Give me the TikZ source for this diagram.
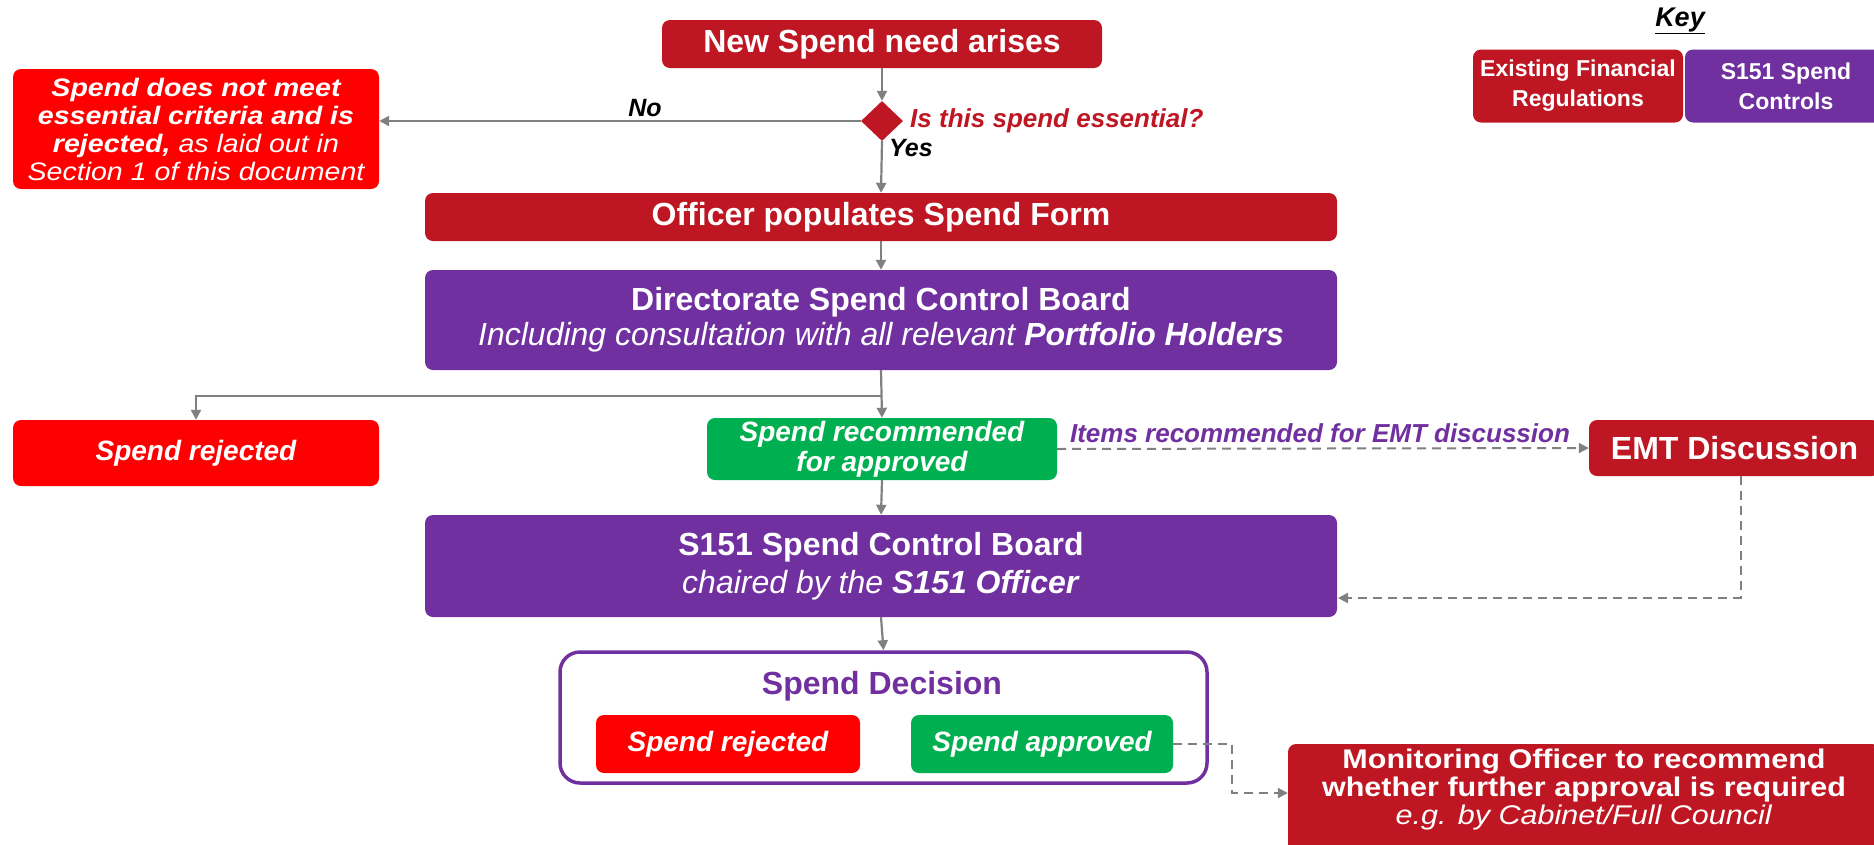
\documentclass[tikz,border=0pt]{standalone}
\usepackage{fontspec}
\setmainfont{Liberation Sans}
\newfontfamily\widesans[FakeStretch=1.13]{Liberation Sans}
\usetikzlibrary{shapes.geometric,arrows.meta}
\definecolor{regred}{RGB}{190,22,34}
\definecolor{ctrlpurple}{RGB}{112,48,160}
\definecolor{brightred}{RGB}{255,0,0}
\definecolor{okgreen}{RGB}{0,176,80}
\definecolor{linegray}{RGB}{128,128,128}
\newcommand\fsz[2]{\fontsize{#1}{#2}\selectfont}
\begin{document}
\begin{tikzpicture}[x=1pt,y=-1pt,
  box/.style={rectangle,rounded corners=8pt,inner sep=0pt,text=white,align=center,anchor=center},
  regbox/.style={box,fill=regred},
  ctrlbox/.style={box,fill=ctrlpurple},
  rejbox/.style={box,fill=brightred},
  okbox/.style={box,fill=okgreen},
  flow/.style={draw=linegray,line width=2.2pt,-{Triangle[length=10pt,width=10pt]}},
  dflow/.style={flow,line width=2pt,dash pattern=on 9pt off 6pt},
  lbl/.style={inner sep=0pt}
]
\fill[white] (0,0) rectangle (1874,844);
\clip (0,0) rectangle (1874,844);

% key
\node[lbl,font=\fsz{27}{30}\bfseries\itshape] (keytitle) at (1680,21) {\underline{Key}};
\node[regbox,minimum width=210pt,minimum height=73pt,font=\fsz{23}{30}\bfseries] (keyreg) at (1578,86) {Existing Financial\\Regulations};
\node[ctrlbox,minimum width=202pt,minimum height=73pt,font=\fsz{23}{30}\bfseries] (keyctrl) at (1786,86) {S151 Spend\\Controls};

% top
\node[regbox,minimum width=440pt,minimum height=48pt,font=\fsz{32}{38}\bfseries] (newspend) at (882,44) {New Spend need arises};
\node[diamond,fill=regred,minimum width=42pt,minimum height=40pt,inner sep=0pt] (dia) at (882,121) {};
\node[lbl,anchor=west,text=regred,font=\fsz{26}{30}\bfseries\itshape] (question) at (910,121) {Is this spend essential?};
\node[rejbox,minimum width=366pt,minimum height=120pt,font=\widesans\fsz{25.3}{28}\itshape] (reject1) at (196,129)
  {\textbf{Spend does not meet}\\\textbf{essential criteria and is}\\\textbf{rejected,} as laid out in\\Section 1 of this document};
\node[lbl,anchor=base,font=\fsz{25}{28}\bfseries\itshape] (nolbl) at (645,116) {No};
\node[lbl,anchor=base west,font=\fsz{25}{28}\bfseries\itshape] (yeslbl) at (889,156) {Yes};

\node[regbox,minimum width=912pt,minimum height=48pt,font=\fsz{32}{38}\bfseries] (officer) at (881,217) {Officer populates Spend Form};
\node[ctrlbox,minimum width=912pt,minimum height=100pt,font=\fsz{32}{35}] (director) at (881,320)
  {\textbf{Directorate Spend Control Board}\\\textit{Including consultation with all relevant \textbf{Portfolio Holders}}};
\coordinate (junction) at (881,396);

\node[rejbox,minimum width=366pt,minimum height=66pt,font=\fsz{28}{32}\bfseries\itshape] (reject2) at (196,453) {Spend rejected};
\node[okbox,minimum width=350pt,minimum height=62pt,font=\fsz{28}{30}\bfseries\itshape] (rec) at (882,449) {Spend recommended\\for approved};
\node[regbox,minimum width=291pt,minimum height=56pt,font=\fsz{32}{38}\bfseries] (emt) at (1734.5,448) {EMT Discussion};
\node[lbl,anchor=base,text=ctrlpurple,font=\fsz{26}{30}\bfseries\itshape] (emtlbl) at (1320,442) {Items recommended for EMT discussion};

\node[ctrlbox,minimum width=912pt,minimum height=102pt,font=\fsz{32}{38}] (s151) at (881,566)
  {\textbf{S151 Spend Control Board}\\\textit{chaired by the \textbf{S151 Officer}}};
\coordinate (emtin) at (1338,598);

\node[box,draw=ctrlpurple,line width=3.5pt,fill=white,rounded corners=20pt,minimum width=647pt,minimum height=131pt] (decision) at (883.5,717.5) {};
\node[lbl,text=ctrlpurple,font=\fsz{32}{38}\bfseries] (dectitle) at (882,686) {Spend Decision};
\node[rejbox,minimum width=264pt,minimum height=58pt,font=\fsz{28}{32}\bfseries\itshape] (inrej) at (728,744) {Spend rejected};
\node[okbox,minimum width=262pt,minimum height=58pt,font=\fsz{28}{32}\bfseries\itshape] (inapp) at (1042,744) {Spend approved};

\node[regbox,minimum width=592pt,minimum height=115pt] (monitor) at (1584,801.5) {};
\node[lbl,text=white,align=center,font=\widesans\fsz{27}{28}] (monitortext) at (1584,790)
  {\textbf{Monitoring Officer to recommend}\\\textbf{whether further approval is required}\\\textit{e.g. by Cabinet/Full Council}};

% connectors
\draw[flow] (newspend.south) -- (dia.north);
\draw[flow] (dia.west) -- (dia.west -| reject1.east);
\draw[flow] (dia.south) -- (officer.north);
\draw[flow] (officer.south) -- (director.north);
\draw[flow] (director.south) -- (rec.north);
\draw[flow] (junction) -| (reject2.north);
\draw[dflow] (rec.east) -- (emt.west);
\draw[dflow] ([xshift=6pt]emt.south) |- (emtin);
\draw[flow] (rec.south) -- (s151.north);
\draw[flow] (s151.south) -- (decision.north);
\draw[dflow] (inapp.east) -- ++(59,0) |- (monitor.west |- 0,793);
\end{tikzpicture}
\end{document}
